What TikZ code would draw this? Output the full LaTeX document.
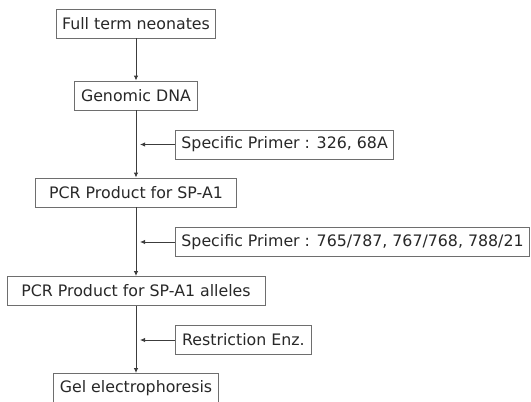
\documentclass[tikz,border=0pt]{standalone}
\usepackage{fontspec}
\setmainfont{DejaVu Sans}
\definecolor{BoxGray}{RGB}{110, 110, 110}
\definecolor{LineGray}{RGB}{60, 60, 60}
\definecolor{TextGray}{RGB}{40, 40, 40}
\usetikzlibrary{arrows.meta, positioning}

\begin{document}
\begin{tikzpicture}[x=1pt, y=1pt, >={Latex[length=5pt, width=4.5pt]},
    every node/.style={font=\fontsize{15.8}{18}\selectfont, text=TextGray},
    stepbox/.style={draw=BoxGray, line width=0.9pt, fill=white, minimum height=29pt, inner xsep=6pt, inner ysep=0pt},
    notebox/.style={stepbox, anchor=west},
    flow/.style={->, draw=LineGray, line width=0.9pt}]
    \useasboundingbox (0,0) rectangle (531,-402);
    % Main flow
    \node[stepbox, minimum width=159pt] (neo) at (136,-23.5) {Full term neonates};
    \node[stepbox, minimum width=123pt] (dna) at (136,-95.5) {Genomic DNA};
    \node[stepbox, minimum width=201pt] (pcr) at (136,-192.5) {PCR Product for SP-A1};
    \node[stepbox, minimum width=258pt] (allele) at (136,-291) {PCR Product for SP-A1 alleles};
    \node[stepbox, minimum width=165pt] (gel) at (136,-388) {Gel electrophoresis};
    % Side inputs
    \node[notebox, minimum width=218pt] (prim1) at (175,-144.5) {Specific Primer : 326, 68A};
    \node[notebox, minimum width=354pt] (prim2) at (175,-242) {Specific Primer : 765/787, 767/768, 788/21};
    \node[notebox, minimum width=136pt] (enz) at (175,-340) {Restriction Enz.};
    \draw[flow] (neo) -- (dna);
    \draw[flow] (dna) -- (pcr);
    \draw[flow] (pcr) -- (allele);
    \draw[flow] (allele) -- (gel);
    \draw[flow, shorten >=4pt] (prim1) -- (prim1 -| dna);
    \draw[flow, shorten >=4pt] (prim2) -- (prim2 -| pcr);
    \draw[flow, shorten >=4pt] (enz) -- (enz -| allele);
\end{tikzpicture}
\end{document}
